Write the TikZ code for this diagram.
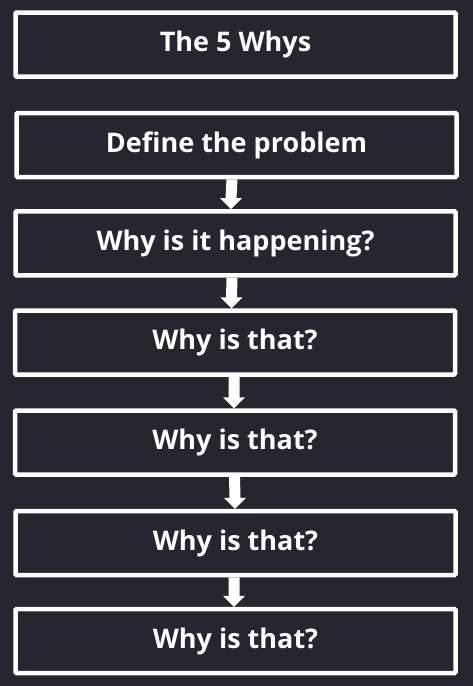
\documentclass[tikz,border=0pt]{standalone}
\usepackage{fontspec}
\setmainfont{Open Sans}
\usetikzlibrary{calc}
\definecolor{bgc}{RGB}{38,37,48}
\newcommand\fatarrow[3]{%
  \fill[white]
    ([xshift={(#3)*1pt-5.5pt}]#1.south) --
    ([xshift={(#3)*1pt-5.5pt},yshift=11pt]#2.north) --
    ([xshift={(#3)*1pt-11pt},yshift=11pt]#2.north) --
    ([xshift={(#3)*1pt}]#2.north) --
    ([xshift={(#3)*1pt+11pt},yshift=11pt]#2.north) --
    ([xshift={(#3)*1pt+5.5pt},yshift=11pt]#2.north) --
    ([xshift={(#3)*1pt+5.5pt}]#1.south) -- cycle;}
\begin{document}
\begin{tikzpicture}[x=1pt,y=-1pt,
  box/.style={draw=white, fill=bgc, line width=4.5pt, rounded corners=1pt,
    minimum width=440pt, minimum height=64pt, inner sep=0pt,
    text=white, font=\fontsize{27}{31}\selectfont\bfseries}]
\fill[bgc] (0,0) rectangle (473,686);
\useasboundingbox (0,0) rectangle (473,686);
\node[box] (b1) at (235.5,44.5) {The 5 Whys};
\node[box] (b2) at (236.5,145) {Define the problem};
\node[box] (b3) at (235.5,243.25) {Why is it happening?};
\node[box] (b4) at (235,342.5) {Why is that?};
\node[box] (b5) at (235,442.5) {Why is that?};
\node[box] (b6) at (235.5,543) {Why is that?};
\node[box] (b7) at (235.5,641) {Why is that?};
\fatarrow{b2}{b3}{-4.5}
\fatarrow{b3}{b4}{-3.5}
\fatarrow{b4}{b5}{-1}
\fatarrow{b5}{b6}{-0.5}
\fatarrow{b6}{b7}{-1.5}
\end{tikzpicture}
\end{document}
